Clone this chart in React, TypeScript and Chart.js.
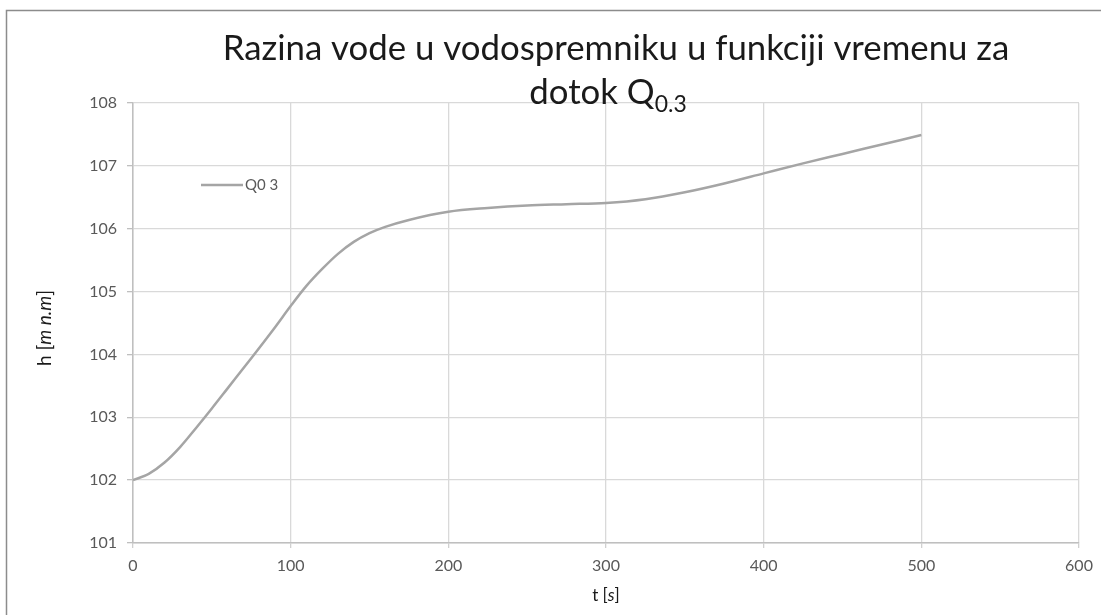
import React, { useEffect, useRef } from "react";
import { Chart, registerables } from "chart.js";

Chart.register(...registerables);

const titleLine1 = "Razina vode u vodospremniku u funkciji vremenu za";
const titleLine2Main = "dotok Q";
const titleLine2Sub = "0.3";
const seriesName = "Q0 3";
const xTicks = [0, 100, 200, 300, 400, 500, 600];
const yTicks = [101, 102, 103, 104, 105, 106, 107, 108];
const timeSeconds = [0, 10, 20, 30, 40, 50, 60, 75, 90, 100, 110, 120, 130, 140, 150, 160, 175, 200, 225, 250, 275, 300, 325, 350, 375, 400, 425, 450, 475, 500];
const levelQ03 = [102.0, 102.1, 102.28, 102.53, 102.83, 103.14, 103.46, 103.94, 104.43, 104.77, 105.09, 105.36, 105.6, 105.79, 105.93, 106.03, 106.14, 106.27, 106.33, 106.37, 106.39, 106.41, 106.47, 106.58, 106.72, 106.88, 107.04, 107.19, 107.34, 107.49];

const FONT = "Lato, 'Open Sans', sans-serif";

function drawSegments(ctx: CanvasRenderingContext2D, segs: { t: string; italic?: boolean }[], cx: number, cy: number, size: number, color: string) {
  ctx.fillStyle = color;
  ctx.textBaseline = "middle";
  ctx.textAlign = "left";
  let total = 0;
  const widths = segs.map((s) => {
    ctx.font = `${s.italic ? "italic " : ""}${size}px ${FONT}`;
    const w = ctx.measureText(s.t).width;
    total += w;
    return w;
  });
  let x = cx - total / 2;
  segs.forEach((s, i) => {
    ctx.font = `${s.italic ? "italic " : ""}${size}px ${FONT}`;
    ctx.fillText(s.t, x, cy);
    x += widths[i];
  });
}

const decorPlugin = {
  id: "decor",
  afterDraw(chart: any) {
    const ctx: CanvasRenderingContext2D = chart.ctx;
    ctx.save();
    // outer chart border (cropped)
    ctx.strokeStyle = "#8c8c8c";
    ctx.lineWidth = 1.5;
    ctx.strokeRect(6.5, 10.5, 1300, 800);

    // title line 1, fitted to width
    const targetW = 787;
    ctx.font = `30px ${FONT}`;
    const w30 = ctx.measureText(titleLine1).width;
    const size = (30 * targetW) / w30;
    ctx.fillStyle = "#1a1a1a";
    ctx.textBaseline = "alphabetic";
    ctx.textAlign = "center";
    ctx.font = `${size}px ${FONT}`;
    ctx.fillText(titleLine1, 616, 60);
    // title line 2
    const mainW = ctx.measureText(titleLine2Main).width;
    ctx.font = `${size * 0.66}px ${FONT}`;
    const subW = ctx.measureText(titleLine2Sub).width;
    const start = 608 - (mainW + subW) / 2;
    ctx.textAlign = "left";
    ctx.font = `${size}px ${FONT}`;
    ctx.fillText(titleLine2Main, start, 104);
    ctx.font = `${size * 0.66}px ${FONT}`;
    ctx.fillText(titleLine2Sub, start + mainW, 112);

    // legend
    ctx.strokeStyle = "#a5a5a5";
    ctx.lineWidth = 2.5;
    ctx.beginPath();
    ctx.moveTo(201, 185);
    ctx.lineTo(243, 185);
    ctx.stroke();
    ctx.fillStyle = "#595959";
    ctx.font = `15px ${FONT}`;
    ctx.textBaseline = "middle";
    ctx.fillText(seriesName, 245, 185);

    // axis titles
    drawSegments(ctx, [{ t: "t [" }, { t: "s", italic: true }, { t: "]" }], 606, 596, 17, "#1a1a1a");
    ctx.translate(45, 328);
    ctx.rotate(-Math.PI / 2);
    drawSegments(ctx, [{ t: "h [" }, { t: "m n.m", italic: true }, { t: "]" }], 0, 0, 19, "#1a1a1a");
    ctx.restore();
  },
};

export default function App() {
  const ref = useRef<HTMLCanvasElement | null>(null);
  useEffect(() => {
    if (!ref.current) return;
    const points = timeSeconds.map((t, i) => ({ x: t, y: levelQ03[i] }));
    const chart = new Chart(ref.current, {
      type: "line",
      data: {
        datasets: [
          {
            label: seriesName,
            data: points,
            borderColor: "#a5a5a5",
            borderWidth: 2.5,
            pointRadius: 0,
            fill: false,
            cubicInterpolationMode: "monotone",
          },
        ],
      },
      options: {
        responsive: false,
        animation: false,
        layout: { padding: { top: 103, right: 22, left: 0, bottom: 0 } },
        plugins: { legend: { display: false }, title: { display: false }, tooltip: { enabled: false } },
        scales: {
          x: {
            type: "linear",
            min: 0,
            max: 600,
            afterBuildTicks: (s: any) => {
              s.ticks = xTicks.map((v) => ({ value: v }));
            },
            afterFit: (s: any) => {
              s.height = 72;
            },
            ticks: { font: { family: FONT, size: 16 }, color: "#595959", padding: 8, maxRotation: 0 },
            grid: { color: "#d9d9d9", lineWidth: 1.3, tickLength: 5, tickColor: "#d0d0d0" },
            border: { color: "#bfbfbf", width: 1.5 },
          },
          y: {
            type: "linear",
            min: 101,
            max: 108,
            afterBuildTicks: (s: any) => {
              s.ticks = yTicks.map((v) => ({ value: v }));
            },
            afterFit: (s: any) => {
              s.width = 133;
            },
            ticks: { font: { family: FONT, size: 16 }, color: "#595959", padding: 10 },
            grid: { color: "#d9d9d9", lineWidth: 1.3, tickLength: 6, tickColor: "#bfbfbf" },
            border: { color: "#bfbfbf", width: 1.5 },
          },
        },
      },
      plugins: [decorPlugin],
    });
    return () => chart.destroy();
  }, []);
  return (
    <div style={{ position: "fixed", left: 0, top: 0, width: 1101, height: 615, background: "#fff" }}>
      <canvas ref={ref} width={1101} height={615} style={{ display: "block" }} />
    </div>
  );
}
